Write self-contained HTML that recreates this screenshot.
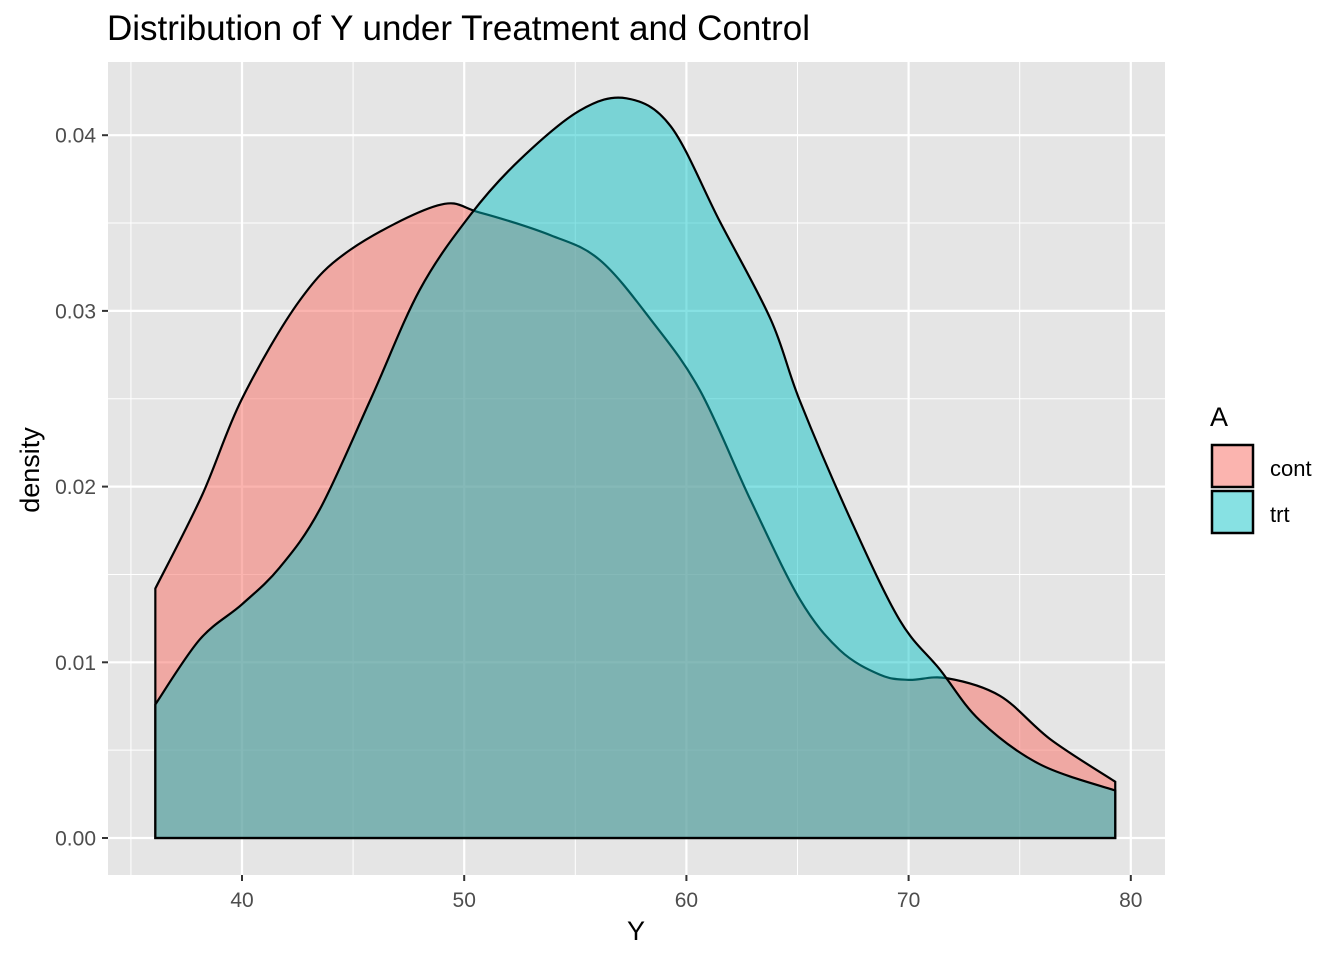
<!DOCTYPE html>
<html><head><meta charset="utf-8"><style>
html,body{margin:0;padding:0;background:#fff;}
svg{display:block;font-family:"Liberation Sans",Arial,sans-serif;}
</style></head><body>
<svg id="chart" width="1344" height="960" xmlns="http://www.w3.org/2000/svg">
<text x="107" y="40" font-size="35" fill="#000">Distribution of Y under Treatment and Control</text>
<rect x="108" y="62" width="1057" height="813" fill="#E5E5E5"/>
<g id="grid"></g>
<g id="marks"></g>
<g id="axes"></g>
<text x="636" y="940" font-size="27" text-anchor="middle">Y</text>
<text transform="translate(39,470) rotate(-90)" font-size="27" text-anchor="middle">density</text>
<g>
<text x="1210" y="426" font-size="27">A</text>
<rect x="1212" y="445" width="41" height="42" fill="#F8766D" fill-opacity="0.55" stroke="#000" stroke-width="2.5"/>
<rect x="1212" y="491" width="41" height="42" fill="#00BFC4" fill-opacity="0.47" stroke="#000" stroke-width="2.5"/>
<text x="1270" y="476" font-size="22" fill="#000">cont</text>
<text x="1270" y="522" font-size="22" fill="#000">trt</text>
</g>
</svg>
<script>
const xTicks=[40,50,60,70,80];
const yTicks=[0,0.01,0.02,0.03,0.04];
const yTickLabels=["0.00","0.01","0.02","0.03","0.04"];
const contX=[36.1,38.2,40,42.6,44.9,48.8,50.7,53.9,56.1,58.4,60.6,62.9,65.1,66.9,68.7,70,71.7,74.1,76.4,79.3];
const contY=[0.0142,0.0195,0.025,0.0306,0.0335,0.036,0.0356,0.0343,0.0329,0.0295,0.0255,0.0192,0.0136,0.0107,0.0093,0.009,0.0091,0.0081,0.0056,0.0032];
const trtX=[36.1,38.1,40,41.7,43.5,45.8,48,50.3,52.5,55.2,57.3,59.3,61.5,63.8,65.1,67.4,69.6,71.4,73.2,75.9,79.3];
const trtY=[0.0076,0.0113,0.0133,0.0154,0.0187,0.025,0.0312,0.0355,0.0386,0.0414,0.0421,0.0405,0.0351,0.0295,0.0249,0.0181,0.0124,0.0096,0.0067,0.0042,0.0027];
const sx=v=>242+(v-40)*22.22;
const sy=v=>838-v*17570;
const NS="http://www.w3.org/2000/svg";
function mk(tag,attrs,parent){const e=document.createElementNS(NS,tag);for(const k in attrs)e.setAttribute(k,attrs[k]);parent.appendChild(e);return e;}
const grid=document.getElementById('grid'),axes=document.getElementById('axes'),marks=document.getElementById('marks');
for(let i=0;i<xTicks.length;i++){
 const x=sx(xTicks[i]);
 const l=mk('line',{x1:x,x2:x,y1:62,y2:875,stroke:'#fff','stroke-width':2.2},grid);
 
 
 const m=sx(xTicks[i]-5);
 const ml=mk('line',{x1:m,x2:m,y1:62,y2:875,stroke:'#fff','stroke-width':1},grid);
 
 
 mk('line',{x1:x,x2:x,y1:875,y2:881,stroke:'#333','stroke-width':2},axes);
 const t=mk('text',{x:x,y:907,'font-size':21,fill:'#4D4D4D','text-anchor':'middle'},axes);
 t.textContent=xTicks[i];
 
 
}
for(let i=0;i<yTicks.length;i++){
 const y=sy(yTicks[i]);
 const l=mk('line',{x1:108,x2:1165,y1:y,y2:y,stroke:'#fff','stroke-width':2.2},grid);
 
 
 const m=sy(yTicks[i]+0.005);
 const ml=mk('line',{x1:108,x2:1165,y1:m,y2:m,stroke:'#fff','stroke-width':1},grid);
 
 
 mk('line',{x1:102,x2:108,y1:y,y2:y,stroke:'#333','stroke-width':2},axes);
 const t=mk('text',{x:96,y:y+7.5,'font-size':21,fill:'#4D4D4D','text-anchor':'end'},axes);
 t.textContent=yTickLabels[i];
 
 
}
function pathFor(xs,ys){
 const p=xs.map((x,i)=>[sx(x),sy(ys[i])]);
 let d=`M${p[0][0]},${sy(0)} L${p[0][0]},${p[0][1]}`;
 for(let i=0;i<p.length-1;i++){
  const p0=p[Math.max(0,i-1)],p1=p[i],p2=p[i+1],p3=p[Math.min(p.length-1,i+2)];
  const c1=[p1[0]+(p2[0]-p0[0])/6,p1[1]+(p2[1]-p0[1])/6];
  const c2=[p2[0]-(p3[0]-p1[0])/6,p2[1]-(p3[1]-p1[1])/6];
  d+=` C${c1[0]},${c1[1]} ${c2[0]},${c2[1]} ${p2[0]},${p2[1]}`;
 }
 d+=` L${p[p.length-1][0]},${sy(0)} Z`;
 return d;
}
const c=mk('path',{d:pathFor(contX,contY),fill:'#F8766D','fill-opacity':0.55,stroke:'#000','stroke-width':2.2},marks);


const t=mk('path',{d:pathFor(trtX,trtY),fill:'#00BFC4','fill-opacity':0.47,stroke:'#000','stroke-width':2.2},marks);


</script>
</body></html>
